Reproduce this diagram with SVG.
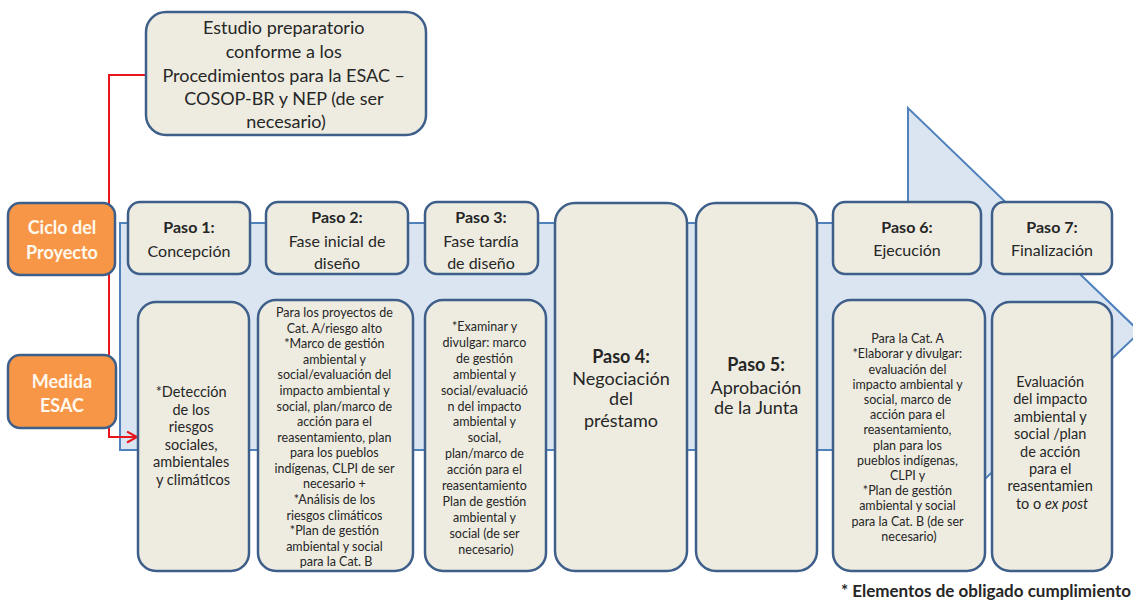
<svg xmlns="http://www.w3.org/2000/svg" width="1133" height="602" viewBox="0 0 1133 602">
<defs>
<style>
.box{fill:#eeece1;stroke:#3e5f8a;stroke-width:2.5}
.org{fill:#f79646;stroke:#3e5f8a;stroke-width:2.5}
.t{font-family:Lato,"Liberation Sans",sans-serif;fill:#262626;text-anchor:middle}
.w{font-family:Lato,"Liberation Sans",sans-serif;fill:#fff8ee;text-anchor:middle;font-weight:bold;font-size:18px}
.b{font-weight:bold}
.red{fill:none;stroke:#e8161c;stroke-width:2}
</style>
<marker id="ah" markerUnits="userSpaceOnUse" markerWidth="14" markerHeight="14" refX="11" refY="6.5" orient="auto">
<path d="M1,1 L11,6.5 L1,12" fill="none" stroke="#e8161c" stroke-width="2"/>
</marker>
</defs>
<rect width="1133" height="602" fill="#ffffff"/>
<g id="big-arrow">
<polygon points="120,223 908,223 908,108 1140,332 908,552 908,450 120,450" fill="#dbe5f1" stroke="#4f81bd" stroke-width="2"/>
</g>
<g id="connectors">
<path class="red" d="M146,75 H109 V437 H137" marker-end="url(#ah)"/>
</g>
<g id="estudio">
<rect class="box" x="146" y="12" width="280" height="123" rx="20"/>
<text class="t" font-size="18">
<tspan x="286" y="34">Estudio preparatorio</tspan>
<tspan x="286" y="58">conforme a los</tspan>
<tspan x="286" y="82">Procedimientos para la ESAC –</tspan>
<tspan x="286" y="105">COSOP-BR y NEP (de ser</tspan>
<tspan x="286" y="128">necesario)</tspan>
</text>
</g>
<g id="ciclo">
<rect class="org" x="8" y="203" width="107" height="72" rx="12"/>
<text class="w"><tspan x="62" y="234">Ciclo del</tspan><tspan x="62" y="259">Proyecto</tspan></text>
</g>
<g id="medida">
<rect class="org" x="8" y="355" width="108" height="73" rx="12"/>
<text class="w"><tspan x="62" y="388">Medida</tspan><tspan x="62" y="412">ESAC</tspan></text>
</g>
<g id="paso1">
<rect class="box" x="128" y="202" width="122" height="72" rx="12"/>
<text class="t" font-size="16"><tspan class="b" x="189" y="233">Paso 1:</tspan><tspan x="189" y="257">Concepción</tspan></text>
</g>
<g id="paso2">
<rect class="box" x="266" y="202" width="142" height="72" rx="12"/>
<text class="t" font-size="16"><tspan class="b" x="337" y="223">Paso 2:</tspan><tspan x="337" y="247">Fase inicial de</tspan><tspan x="337" y="269">diseño</tspan></text>
</g>
<g id="paso3">
<rect class="box" x="425" y="202" width="113" height="72" rx="12"/>
<text class="t" font-size="16"><tspan class="b" x="481" y="223">Paso 3:</tspan><tspan x="481" y="247">Fase tardía</tspan><tspan x="481" y="269">de diseño</tspan></text>
</g>
<g id="paso4">
<rect class="box" x="555" y="203" width="132" height="368" rx="20"/>
<text class="t" font-size="18"><tspan class="b" x="621" y="363">Paso 4:</tspan><tspan x="621" y="385">Negociación</tspan><tspan x="621" y="405">del</tspan><tspan x="621" y="427">préstamo</tspan></text>
</g>
<g id="paso5">
<rect class="box" x="696" y="203" width="121" height="368" rx="20"/>
<text class="t" font-size="18"><tspan class="b" x="756" y="371">Paso 5:</tspan><tspan x="756" y="394">Aprobación</tspan><tspan x="756" y="414">de la Junta</tspan></text>
</g>
<g id="paso6">
<rect class="box" x="833" y="202" width="148" height="72" rx="12"/>
<text class="t" font-size="16"><tspan class="b" x="907" y="233">Paso 6:</tspan><tspan x="907" y="256">Ejecución</tspan></text>
</g>
<g id="paso7">
<rect class="box" x="992" y="202" width="120" height="72" rx="12"/>
<text class="t" font-size="16"><tspan class="b" x="1052" y="233">Paso 7:</tspan><tspan x="1052" y="256">Finalización</tspan></text>
</g>
<g id="esac1">
<rect class="box" x="138" y="302" width="111" height="269" rx="18"/>
<text class="t" font-size="14.5">
<tspan x="193" y="397">*Detección</tspan>
<tspan x="193" y="415">de los</tspan>
<tspan x="193" y="432">riesgos</tspan>
<tspan x="193" y="450">sociales,</tspan>
<tspan x="193" y="467">ambientales</tspan>
<tspan x="193" y="485">y climáticos</tspan>
</text>
</g>
<g id="esac2">
<rect class="box" x="258" y="300" width="155" height="271" rx="18"/>
<text class="t" font-size="12.5">
<tspan x="336" y="317">Para los proyectos de</tspan>
<tspan x="336" y="333">Cat. A/riesgo alto</tspan>
<tspan x="336" y="348">*Marco de gestión</tspan>
<tspan x="336" y="364">ambiental y</tspan>
<tspan x="336" y="379">social/evaluación del</tspan>
<tspan x="336" y="395">impacto ambiental  y</tspan>
<tspan x="336" y="411">social, plan/marco de</tspan>
<tspan x="336" y="426">acción para el</tspan>
<tspan x="336" y="442">reasentamiento, plan</tspan>
<tspan x="336" y="457">para los pueblos</tspan>
<tspan x="336" y="473">indígenas, CLPI de ser</tspan>
<tspan x="336" y="488">necesario +</tspan>
<tspan x="336" y="504">*Análisis de los</tspan>
<tspan x="336" y="520">riesgos climáticos</tspan>
<tspan x="336" y="535">*Plan de gestión</tspan>
<tspan x="336" y="551">ambiental y social</tspan>
<tspan x="336" y="566">para la Cat. B</tspan>
</text>
</g>
<g id="esac3">
<rect class="box" x="425" y="300" width="121" height="271" rx="18"/>
<text class="t" font-size="12.5">
<tspan x="486" y="331">*Examinar y</tspan>
<tspan x="486" y="347">divulgar: marco</tspan>
<tspan x="486" y="363">de gestión</tspan>
<tspan x="486" y="379">ambiental y</tspan>
<tspan x="486" y="395">social/evaluació</tspan>
<tspan x="486" y="411">n del impacto</tspan>
<tspan x="486" y="426">ambiental y</tspan>
<tspan x="486" y="442">social,</tspan>
<tspan x="486" y="458">plan/marco de</tspan>
<tspan x="486" y="474">acción para el</tspan>
<tspan x="486" y="490">reasentamiento</tspan>
<tspan x="486" y="506">Plan de gestión</tspan>
<tspan x="486" y="522">ambiental y</tspan>
<tspan x="486" y="538">social (de ser</tspan>
<tspan x="486" y="554">necesario)</tspan>
</text>
</g>
<g id="esac6">
<rect class="box" x="833" y="300" width="152" height="271" rx="18"/>
<text class="t" font-size="12.5">
<tspan x="909" y="343">Para la Cat. A</tspan>
<tspan x="909" y="358">*Elaborar y divulgar:</tspan>
<tspan x="909" y="374">evaluación del</tspan>
<tspan x="909" y="389">impacto ambiental y</tspan>
<tspan x="909" y="404">social, marco de</tspan>
<tspan x="909" y="419">acción para el</tspan>
<tspan x="909" y="434">reasentamiento,</tspan>
<tspan x="909" y="450">plan para los</tspan>
<tspan x="909" y="465">pueblos indígenas,</tspan>
<tspan x="909" y="480">CLPI y</tspan>
<tspan x="909" y="495">*Plan de gestión</tspan>
<tspan x="909" y="510">ambiental y social</tspan>
<tspan x="909" y="526">para la Cat. B (de ser</tspan>
<tspan x="909" y="541">necesario)</tspan>
</text>
</g>
<g id="esac7">
<rect class="box" x="992" y="302" width="120" height="269" rx="18"/>
<text class="t" font-size="14.5">
<tspan x="1052" y="387">Evaluación</tspan>
<tspan x="1052" y="404">del impacto</tspan>
<tspan x="1052" y="422">ambiental y</tspan>
<tspan x="1052" y="439">social /plan</tspan>
<tspan x="1052" y="457">de acción</tspan>
<tspan x="1052" y="474">para el</tspan>
<tspan x="1052" y="491">reasentamien</tspan>
<tspan x="1052" y="509">to o <tspan font-style="italic">ex post</tspan></tspan>
</text>
</g>
<text class="t b" font-size="17" x="1131" y="597" style="text-anchor:end">* Elementos de obligado cumplimiento</text>
</svg>
